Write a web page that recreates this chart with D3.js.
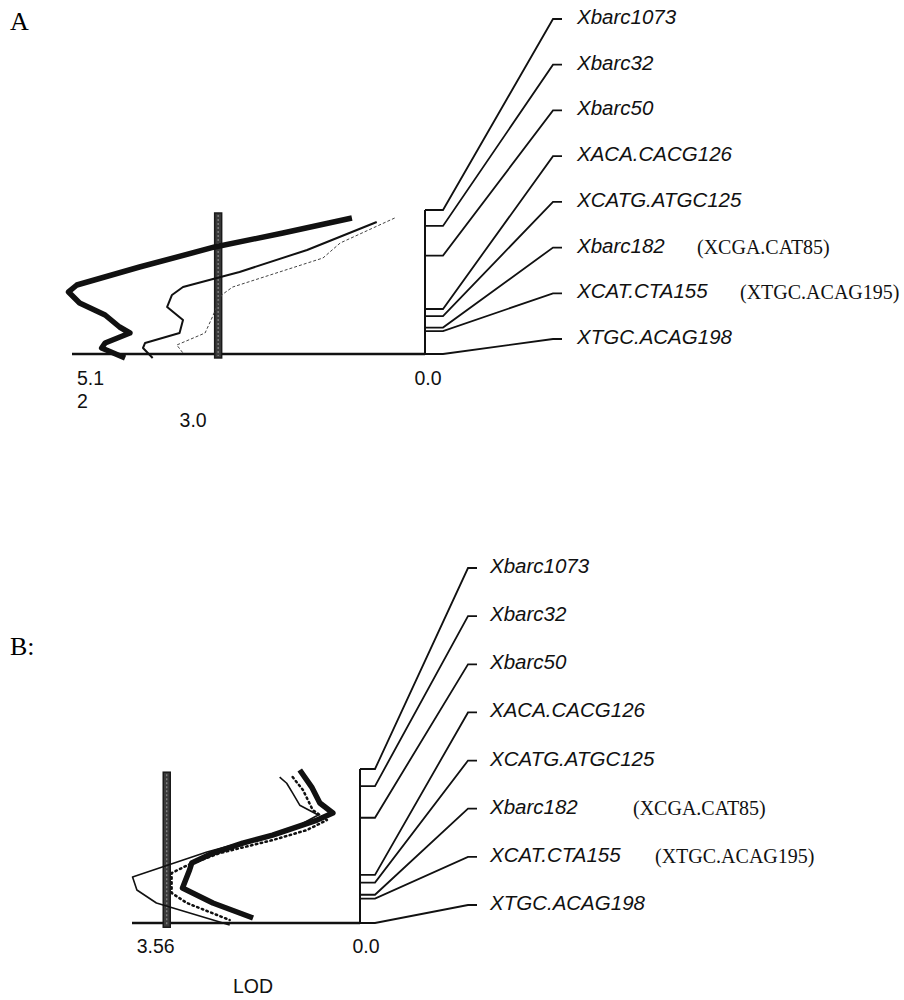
<!DOCTYPE html>
<html>
<head>
<meta charset="utf-8">
<script src="https://cdn.jsdelivr.net/npm/d3@7"></script>
<style>
  body { margin: 0; background: #fff; }
</style>
</head>
<body>
<div id="chart"></div>
<script>
// marker map (same linkage group in both panels), positions in cM from the bottom
const markers = ["Xbarc1073", "Xbarc32", "Xbarc50", "XACA.CACG126", "XCATG.ATGC125", "Xbarc182", "XCAT.CTA155", "XTGC.ACAG198"];
const markerCM = [120, 106.7, 82, 37.5, 31.5, 22, 19, 0];
const altMarkers = ["", "", "", "", "", "(XCGA.CAT85)", "(XTGC.ACAG195)", ""];

// LOD profiles, [cM, LOD]
const thickA = [[113.3,1.06],[100.8,2.06],[89.2,3.05],[72.5,4.14],[57.5,5.05],[51.7,5.17],[42.5,5.01],[32.5,4.64],[22.5,4.43],[17.5,4.28],[9.2,4.64],[5.0,4.69],[-3.3,4.35]];
const thinA  = [[110,0.70],[86.7,1.71],[68.3,2.69],[63.3,3.02],[55.8,3.51],[49.2,3.67],[39.2,3.74],[28.3,3.51],[17.5,3.56],[9.2,4.06],[5.0,4.09],[-3.3,3.95]];
const dashA  = [[113.3,0.44],[92.5,1.23],[80,1.48],[55.8,2.79],[49.2,2.95],[30,3.09],[17.5,3.19],[7.5,3.60],[0.8,3.51]];

const thickB = [[119.2,1.11],[105.9,0.89],[93.5,0.74],[85.7,0.50],[80.2,0.79],[68.5,1.61],[62.3,2.16],[54.5,2.71],[46.7,3.10],[41.3,3.14],[27.3,3.27],[15.6,2.71],[3.9,1.97]];
const dotB   = [[113.7,1.24],[103.6,1.05],[88.0,0.87],[80.2,0.61],[72.4,0.98],[64.6,1.61],[54.5,2.58],[45.2,3.17],[38.9,3.47],[23.4,3.47],[15.6,3.19],[2.3,2.40]];
const thinB  = [[113.7,1.48],[108.9,1.35],[101.2,1.24],[91.8,1.11],[84.1,0.77],[70.9,1.35],[62.3,2.21],[55.3,2.82],[35.8,4.19],[25.7,4.11],[15.6,3.75],[-1.6,2.40]];

const thresholdA = 3.0, thresholdB = 3.56;
const ticksA = [5.12, 3.0, 0], tickLabelsA = [["5.1", "2"], ["3.0"], ["0.0"]];
const ticksB = [3.56, 0], tickLabelsB = [["3.56"], ["0.0"]];

const width = 904, height = 1000;
const svg = d3.select("#chart").append("svg")
  .attr("width", width)
  .attr("height", height);

const panels = [
  {
    title: "A", titleX: 10, titleY: 30,
    lodMax: 5.12, xRange: [425, 72], yRange: [354, 210], labelRange: [19, 339],
    stub: 18, elbowX: 553, labelX: 577, altDx: [0, 0, 0, 0, 0, 120, 163, 0],
    threshold: thresholdA, ticks: ticksA, tickLabels: tickLabelsA,
    tickStyle: [{ anchor: "start", dx: 5, y: 385 }, { anchor: "middle", dx: -25, y: 427 }, { anchor: "middle", dx: 3, y: 385 }],
    curves: [
      { data: dashA, w: 1, dash: "3,2", color: "#444" },
      { data: thinA, w: 2 },
      { data: thickA, w: 5.5 }
    ]
  },
  {
    title: "B:", titleX: 10, titleY: 655,
    lodMax: 4.2, xRange: [360, 132], yRange: [923, 769], labelRange: [568, 905],
    stub: 15, elbowX: 468, labelX: 490, altDx: [0, 0, 0, 0, 0, 143, 165, 0],
    threshold: thresholdB, ticks: ticksB, tickLabels: tickLabelsB,
    tickStyle: [{ anchor: "middle", dx: -11, y: 953 }, { anchor: "middle", dx: 6, y: 953 }],
    axisTitle: "LOD", axisTitleX: 253, axisTitleY: 993,
    curves: [
      { data: thinB, w: 1.6 },
      { data: dotB, w: 2.5, dash: "1.5,3.5", cap: "round" },
      { data: thickB, w: 5.5 }
    ]
  }
];

function drawPanel(p) {
  const x = d3.scaleLinear().domain([0, p.lodMax]).range(p.xRange);
  const y = d3.scaleLinear().domain([0, 120]).range(p.yRange);
  const ly = d3.scalePoint().domain(markers).range(p.labelRange);
  const g = svg.append("g");
  const chromX = x(0);

  g.append("text")
    .attr("x", p.titleX).attr("y", p.titleY)
    .attr("font-family", "Liberation Serif, Times New Roman, serif")
    .attr("font-size", 26)
    .text(p.title);

  // LOD baseline
  g.append("line")
    .attr("x1", x(p.lodMax)).attr("x2", chromX)
    .attr("y1", y(0)).attr("y2", y(0))
    .attr("stroke", "#111").attr("stroke-width", 2.5);

  // chromosome
  g.append("line")
    .attr("x1", chromX).attr("x2", chromX)
    .attr("y1", y(0)).attr("y2", y(d3.max(markerCM)))
    .attr("stroke", "#111").attr("stroke-width", 2);

  // marker connectors
  g.selectAll(".conn")
    .data(markers)
    .enter()
    .append("path")
    .attr("class", "conn")
    .attr("fill", "none")
    .attr("stroke", "#111")
    .attr("stroke-width", 1.8)
    .attr("d", (d, i) => {
      const yy = y(markerCM[i]);
      return d3.line()([[chromX, yy], [chromX + p.stub, yy], [p.elbowX, ly(d)], [p.elbowX + 9, ly(d)]]);
    });

  g.selectAll(".mlabel")
    .data(markers)
    .enter()
    .append("text")
    .attr("class", "mlabel")
    .attr("x", p.labelX)
    .attr("y", d => ly(d) + 5)
    .attr("font-family", "Liberation Sans, Arial, sans-serif")
    .attr("font-style", "italic")
    .attr("font-size", 20.5)
    .attr("fill", "#111")
    .text(d => d);

  g.selectAll(".alabel")
    .data(altMarkers.map((d, i) => ({ d, i })).filter(o => o.d))
    .enter()
    .append("text")
    .attr("x", o => p.labelX + p.altDx[o.i])
    .attr("y", o => ly(markers[o.i]) + 6)
    .attr("font-family", "Liberation Serif, Times New Roman, serif")
    .attr("font-size", 20)
    .attr("fill", "#111")
    .text(o => o.d);

  // threshold bar
  const tx = x(p.threshold);
  g.append("rect")
    .attr("x", tx - 3.5).attr("width", 7)
    .attr("y", y(117.5)).attr("height", y(-3.3) - y(117.5))
    .attr("fill", "#3a3a3a").attr("stroke", "#1a1a1a").attr("stroke-width", 1.5);
  g.append("line")
    .attr("x1", tx).attr("x2", tx)
    .attr("y1", y(117.5) + 2).attr("y2", y(-3.3) - 2)
    .attr("stroke", "#8a8a8a").attr("stroke-width", 1.2)
    .attr("stroke-dasharray", "2,2");

  // LOD profiles
  const line = d3.line()
    .x(d => x(d[1]))
    .y(d => y(d[0]))
    .curve(d3.curveLinear);

  p.curves.forEach(c => {
    g.append("path")
      .datum(c.data)
      .attr("fill", "none")
      .attr("stroke", c.color || "#111")
      .attr("stroke-width", c.w)
      .attr("stroke-linejoin", "round")
      .attr("stroke-linecap", c.cap || "butt")
      .attr("stroke-dasharray", c.dash || null)
      .attr("d", line);
  });

  // tick labels
  p.ticks.forEach((t, i) => {
    const st = p.tickStyle[i];
    const txt = g.append("text")
      .attr("x", x(t) + st.dx)
      .attr("y", st.y)
      .attr("text-anchor", st.anchor)
      .attr("font-family", "Liberation Sans, Arial, sans-serif")
      .attr("font-size", 19.5)
      .attr("fill", "#111");
    p.tickLabels[i].forEach((s, k) => {
      txt.append("tspan")
        .attr("x", x(t) + st.dx)
        .attr("dy", k === 0 ? 0 : 23)
        .text(s);
    });
  });

  if (p.axisTitle) {
    g.append("text")
      .attr("x", p.axisTitleX).attr("y", p.axisTitleY)
      .attr("text-anchor", "middle")
      .attr("font-family", "Liberation Sans, Arial, sans-serif")
      .attr("font-size", 19.5)
      .attr("fill", "#111")
      .text(p.axisTitle);
  }
}

panels.forEach(drawPanel);
</script>
</body>
</html>
